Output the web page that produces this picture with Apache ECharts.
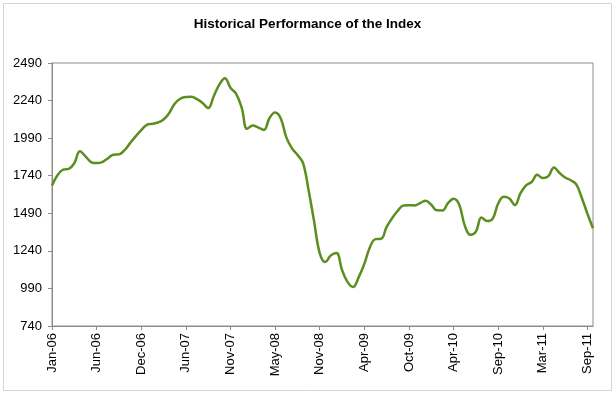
<!DOCTYPE html>
<html>
<head>
<meta charset="utf-8">
<script src="https://cdn.jsdelivr.net/npm/echarts@6/dist/echarts.min.js"></script>
<style>
html,body{margin:0;padding:0;background:#fff;}
#c{width:615px;height:394px;}
</style>
</head>
<body>
<div id="c"></div>
<script>
// Tick labels shown every 8th point along the category axis
const tickLabels = ['Jan-06','Jun-06','Dec-06','Jun-07','Nov-07','May-08','Nov-08','Apr-09','Oct-09','Apr-10','Sep-10','Mar-11','Sep-11'];
const pointsPerTick = 8;
// Index level values
const indexValues = [
  1675,1745,1781,1786,1823,1903,1869,1831,1824,1831,
  1855,1880,1882,1910,1957,2002,2043,2079,2085,2094,
  2114,2156,2219,2252,2264,2265,2249,2224,2190,2269,
  2346,2388,2325,2286,2194,2052,2074,2060,2045,2124,
  2160,2122,1997,1924,1879,1825,1645,1435,1225,1166,
  1210,1225,1113,1032,1000,1065,1153,1264,1318,1320,
  1399,1459,1507,1542,1544,1542,1558,1574,1547,1510,
  1509,1557,1586,1548,1410,1347,1368,1462,1438,1453,
  1555,1600,1589,1545,1624,1676,1698,1746,1724,1737,
  1795,1758,1728,1710,1682,1592,1487,1390
];
const yMin = 740, yMax = 2490, yStep = 250;

const categories = indexValues.map((v, i) => String(i));

const chart = echarts.init(document.getElementById('c'), null, {renderer: 'canvas'});
chart.setOption({
  backgroundColor: '#fff',
  animation: false,
  textStyle: {fontFamily: 'Liberation Sans, Arial, sans-serif'},
  title: {
    text: 'Historical Performance of the Index',
    left: 'center',
    top: 12,
    textStyle: {fontSize: 13.5, fontWeight: 'bold', color: '#000', fontFamily: 'Liberation Sans, Arial, sans-serif'}
  },
  graphic: [{
    type: 'rect',
    shape: {x: 3.5, y: 3.5, width: 608, height: 387},
    style: {fill: 'none', stroke: '#d4d4d4', lineWidth: 1},
    silent: true
  }],
  grid: {
    left: 52, right: 22, top: 63, bottom: 68,
    show: true, borderColor: '#8c8c8c', borderWidth: 1, backgroundColor: '#fff'
  },
  xAxis: {
    type: 'category',
    data: categories,
    boundaryGap: false,
    axisLine: {lineStyle: {color: '#8c8c8c', width: 1}},
    axisTick: {show: true, interval: pointsPerTick - 1, length: 4, lineStyle: {color: '#8c8c8c'}},
    axisLabel: {
      interval: pointsPerTick - 1,
      rotate: 90,
      margin: 7,
      fontSize: 13,
      color: '#000',
      fontFamily: 'Liberation Sans, Arial, sans-serif',
      formatter: (v, idx) => tickLabels[Math.round(idx / pointsPerTick)] || ''
    },
    splitLine: {show: false}
  },
  yAxis: {
    type: 'value',
    min: yMin, max: yMax, interval: yStep,
    axisLine: {show: true, lineStyle: {color: '#8c8c8c', width: 1}},
    axisTick: {show: true, length: 4, lineStyle: {color: '#8c8c8c'}},
    axisLabel: {
      fontSize: 13, color: '#000', margin: 10,
      fontFamily: 'Liberation Sans, Arial, sans-serif',
      formatter: v => String(v)
    },
    splitLine: {show: false}
  },
  series: [{
    type: 'line',
    data: indexValues,
    smooth: 0.4,
    showSymbol: false,
    lineStyle: {color: '#5B8E1F', width: 2.5},
    itemStyle: {color: '#5B8E1F'}
  }]
});
</script>
</body>
</html>
